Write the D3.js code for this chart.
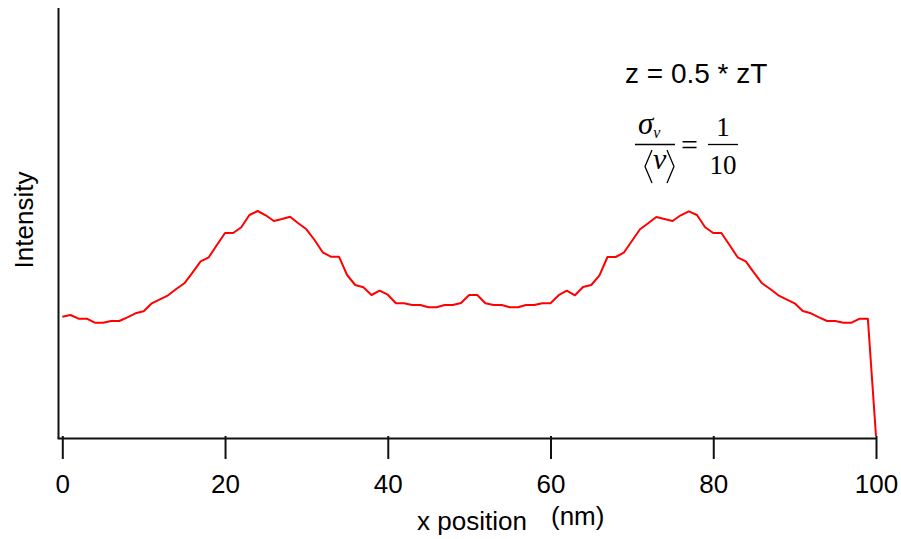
<!DOCTYPE html>
<html>
<head>
<meta charset="utf-8">
<script src="https://cdn.jsdelivr.net/npm/d3@7"></script>
<style>
  body { margin: 0; background: #fff; }
</style>
</head>
<body>
<div id="chart"></div>
<script>
// x position (nm), one sample per nm
const positions = d3.range(0, 101)

// intensity in arbitrary units
const intensity = [
  119.3, 121, 117.3, 117.3, 113.3, 113.3, 115, 115, 118.7, 122.7,
  124.7, 132.7, 136.7, 140.7, 147, 152.7, 163.3, 174.7, 178.7, 191,
  203, 203, 208.7, 221, 225, 220.7, 215, 217, 219.3, 212.7,
  206.7, 196, 183.7, 179.3, 179.3, 161, 151, 148.7, 141, 145.3,
  141.3, 132.7, 132.7, 131, 131, 128.7, 128.7, 131, 131, 133,
  141, 141, 132.7, 131, 131, 128.7, 128.7, 131, 131, 132.8,
  132.8, 140.8, 145.3, 140.7, 149, 151, 160.3, 179, 179, 183.3,
  195, 206.7, 212.7, 219, 217, 215, 220.7, 224.7, 221, 208.7,
  203, 203, 191, 178.7, 174.7, 163.3, 152.7, 147, 140.7, 136.7,
  132.7, 125, 122.7, 118.7, 115, 115, 113.3, 113.3, 117.3, 117.3,
  0
]

const xTicks = [0, 20, 40, 60, 80, 100]

const width = 901
const height = 539

const sans = 'Arial, "Liberation Sans", sans-serif'
const serif = '"Liberation Serif", "Times New Roman", serif'

const svg = d3
  .select('#chart')
  .append('svg')
  .attr('width', width)
  .attr('height', height)

const x = d3.scaleLinear().domain([0, 100]).range([62.3, 876])
const y = d3.scaleLinear().domain([0, 428]).range([436, 8])

// y axis: just the line, no ticks
svg
  .append('line')
  .attr('x1', 58.5)
  .attr('x2', 58.5)
  .attr('y1', y(428))
  .attr('y2', 438)
  .attr('stroke', '#111')
  .attr('stroke-width', 2)

// x axis baseline runs from the y axis to 100
svg
  .append('line')
  .attr('x1', 57.5)
  .attr('x2', x(100) + 1)
  .attr('y1', 438.5)
  .attr('y2', 438.5)
  .attr('stroke', '#111')
  .attr('stroke-width', 2)

const xAxis = svg
  .append('g')
  .attr('transform', 'translate(0,436)')
  .call(
    d3
      .axisBottom(x)
      .tickValues(xTicks)
      .tickSize(23)
      .tickSizeOuter(0)
      .tickPadding(16)
  )
xAxis.select('.domain').remove()
xAxis.selectAll('.tick line').attr('stroke', '#111').attr('stroke-width', 2)
xAxis
  .selectAll('.tick text')
  .attr('fill', '#000')
  .style('font-size', '26px')
  .style('font-family', sans)

// axis titles
svg
  .append('text')
  .attr('x', 417)
  .attr('y', 530)
  .style('font-family', sans)
  .style('font-size', '26px')
  .text('x position')

svg
  .append('text')
  .attr('x', 551)
  .attr('y', 525)
  .style('font-family', sans)
  .style('font-size', '26px')
  .text('(nm)')

svg
  .append('text')
  .attr('transform', 'translate(33,220) rotate(-90)')
  .attr('text-anchor', 'middle')
  .style('font-family', sans)
  .style('font-size', '26px')
  .text('Intensity')

// the profile
const line = d3
  .line()
  .x((d, i) => x(positions[i]))
  .y(d => y(d))

svg
  .append('path')
  .datum(intensity)
  .attr('d', line)
  .attr('fill', 'none')
  .attr('stroke', '#ff0000')
  .attr('stroke-width', 2)
  .attr('stroke-linejoin', 'round')

// annotation
svg
  .append('text')
  .attr('x', 625)
  .attr('y', 83)
  .style('font-family', sans)
  .style('font-size', '28px')
  .text('z = 0.5 * zT')

const eq = svg.append('g')

const sig = eq
  .append('text')
  .attr('x', 638)
  .attr('y', 134)
  .style('font-family', serif)
  .style('font-size', '31px')
  .style('font-style', 'italic')
sig.append('tspan').text('σ')
sig
  .append('tspan')
  .attr('dy', 4)
  .style('font-size', '16px')
  .text('v')

eq
  .append('line')
  .attr('x1', 635)
  .attr('x2', 675)
  .attr('y1', 144.5)
  .attr('y2', 144.5)
  .attr('stroke', '#000')
  .attr('stroke-width', 1.3)

// angle brackets round the mean
eq
  .append('path')
  .attr('d', 'M652,150L645,166.5L652,183M667,150L674,166.5L667,183')
  .attr('fill', 'none')
  .attr('stroke', '#000')
  .attr('stroke-width', 1.3)

eq
  .append('text')
  .attr('x', 653)
  .attr('y', 169)
  .style('font-family', serif)
  .style('font-size', '30px')
  .style('font-style', 'italic')
  .text('v')

eq
  .append('text')
  .attr('x', 681)
  .attr('y', 155)
  .style('font-family', serif)
  .style('font-size', '30px')
  .text('=')

eq
  .append('line')
  .attr('x1', 708)
  .attr('x2', 738)
  .attr('y1', 144.5)
  .attr('y2', 144.5)
  .attr('stroke', '#000')
  .attr('stroke-width', 1.3)

eq
  .append('text')
  .attr('x', 723)
  .attr('y', 136)
  .attr('text-anchor', 'middle')
  .style('font-family', serif)
  .style('font-size', '27px')
  .text('1')
eq
  .append('text')
  .attr('x', 723)
  .attr('y', 174)
  .attr('text-anchor', 'middle')
  .style('font-family', serif)
  .style('font-size', '27px')
  .text('10')
</script>
</body>
</html>
